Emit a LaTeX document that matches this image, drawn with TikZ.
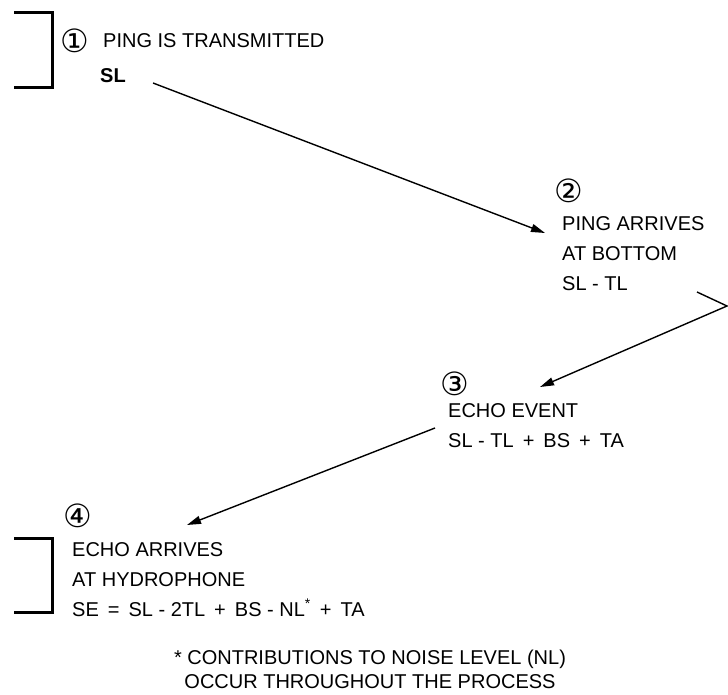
\documentclass[tikz,border=0pt]{standalone}
\usepackage{fontspec}
\setmainfont{Liberation Sans}
\newfontfamily\circfont{DejaVu Sans}
\usetikzlibrary{arrows.meta}

\newcommand{\wsp}{\hspace{0.45em}}

\begin{document}
\begin{tikzpicture}[
      x=1pt, y=-1pt,
      >={Triangle[length=14pt,width=8pt]},
      txt/.style={anchor=north west, inner sep=0pt, align=left,
                  font=\fontsize{20}{30}\selectfont},
      num/.style={inner sep=0pt, font=\circfont\fontsize{32}{32}\selectfont},
      brk/.style={line width=3pt},
      arr/.style={->, line width=1.4pt}
    ]
    \useasboundingbox (0,0) rectangle (728,695);

    % step 1
    \draw[brk] (14,13) -| (52,88) -- (14,88);
    \node[num] (n1) at (75,41) {①};
    \node[txt] (t1) at (103,33) {PING IS TRANSMITTED};
    \node[txt, font=\fontsize{20}{30}\selectfont\bfseries] (sl) at (100,68) {SL};

    % step 2
    \node[num] (n2) at (569,191) {②};
    \node[txt] (t2) at (562,216) {PING ARRIVES\\ AT BOTTOM\\ SL - TL};

    % step 3
    \node[num] (n3) at (455,384) {③};
    \node[txt] (t3) at (448,403) {ECHO EVENT\\ SL - TL\wsp+\wsp BS\wsp+\wsp TA};

    % step 4
    \draw[brk] (14,538) -| (52,612) -- (14,612);
    \node[num] (n4) at (78,516) {④};
    \node[txt] (t4) at (72,542)
      {ECHO ARRIVES\\ AT HYDROPHONE\\
       SE\wsp=\wsp SL - 2TL\wsp+\wsp BS - NL\textsuperscript{*}\wsp+\wsp TA};

    \node[txt, anchor=north, align=center, font=\fontsize{20}{24}\selectfont]
      (note) at (370,650)
      {* CONTRIBUTIONS TO NOISE LEVEL (NL)\\ OCCUR THROUGHOUT THE PROCESS};

    % connectors
    \coordinate (a1) at (153,83);
    \coordinate (b1) at (545,233);
    \coordinate (a2) at (697,292);
    \coordinate (k2) at (727,306);
    \coordinate (b2) at (540,387);
    \coordinate (a3) at (435,428);
    \coordinate (b3) at (187,525);
    \draw[arr] (a1) -- (b1);
    \draw[arr] (a2) -- (k2) -- (b2);
    \draw[arr] (a3) -- (b3);
  \end{tikzpicture}
\end{document}
